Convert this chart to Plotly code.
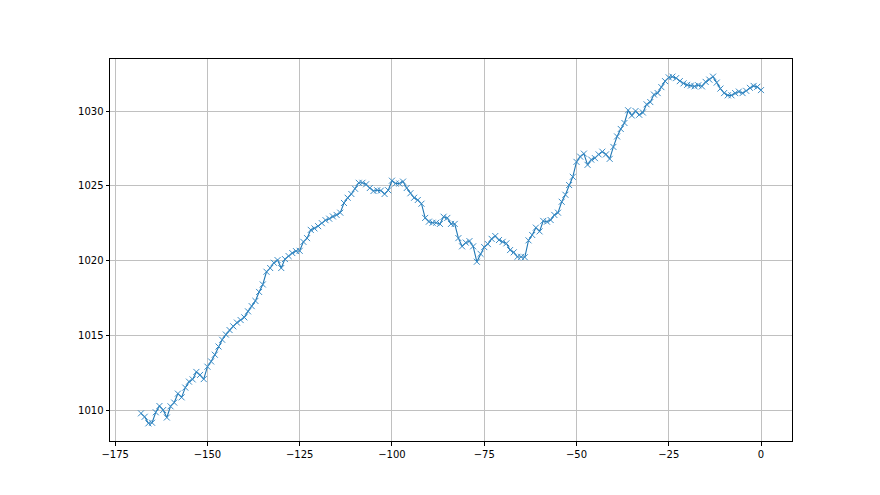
import plotly.graph_objects as go

# Horas relativas (la última lectura es la hora 0)
horas = list(range(-168, 1))

# Presión leída hora a hora
presion = [
    1009.78, 1009.55, 1009.11, 1009.15, 1009.85, 1010.27, 1010.00, 1009.50, 1010.25, 1010.50,
    1011.10, 1010.85, 1011.50, 1011.90, 1012.05, 1012.55, 1012.35, 1012.07, 1012.90, 1013.25,
    1013.70, 1014.25, 1014.70, 1015.05, 1015.35, 1015.60, 1015.85, 1016.02, 1016.20, 1016.60,
    1016.95, 1017.30, 1017.90, 1018.40, 1019.25, 1019.50, 1019.85, 1020.03, 1019.50, 1020.10,
    1020.30, 1020.50, 1020.63, 1020.65, 1021.25, 1021.50, 1022.05, 1022.15, 1022.30, 1022.50,
    1022.70, 1022.80, 1022.95, 1023.05, 1023.20, 1023.85, 1024.20, 1024.45, 1024.80, 1025.20,
    1025.20, 1025.10, 1024.85, 1024.65, 1024.70, 1024.68, 1024.45, 1024.70, 1025.34, 1025.15,
    1025.15, 1025.28, 1024.85, 1024.50, 1024.20, 1024.05, 1023.80, 1022.85, 1022.60, 1022.53,
    1022.53, 1022.45, 1022.93, 1022.85, 1022.45, 1022.45, 1021.50, 1020.95, 1021.20, 1021.30,
    1020.95, 1019.92, 1020.45, 1020.90, 1021.10, 1021.45, 1021.64, 1021.37, 1021.25, 1021.15,
    1020.70, 1020.55, 1020.25, 1020.25, 1020.22, 1021.35, 1021.71, 1022.20, 1021.95, 1022.65,
    1022.60, 1022.71, 1023.05, 1023.20, 1023.93, 1024.40, 1025.05, 1025.60, 1026.60, 1026.95,
    1027.15, 1026.40, 1026.75, 1026.85, 1027.10, 1027.28, 1027.10, 1026.80, 1027.60, 1028.30,
    1028.80, 1029.20, 1030.05, 1029.70, 1030.00, 1029.75, 1029.90, 1030.45, 1030.60, 1031.10,
    1031.20, 1031.60, 1032.00, 1032.25, 1032.30, 1032.20, 1032.00, 1031.85, 1031.75, 1031.70,
    1031.65, 1031.72, 1031.65, 1031.95, 1032.10, 1032.30, 1031.90, 1031.50, 1031.20, 1031.05,
    1031.05, 1031.20, 1031.30, 1031.20, 1031.35, 1031.55, 1031.68, 1031.62, 1031.40,
]

# Marcas de los ejes
x_ticks = [-175, -150, -125, -100, -75, -50, -25, 0]
x_labels = ["\u2212175", "\u2212150", "\u2212125", "\u2212100", "\u221275", "\u221250", "\u221225", "0"]
y_ticks = [1010, 1015, 1020, 1025, 1030]
y_labels = ["1010", "1015", "1020", "1025", "1030"]

fig = go.Figure()

fig.add_trace(go.Scatter(
    x=horas,
    y=presion,
    mode='lines+markers',
    line=dict(color='#1f77b4', width=1.1),
    marker=dict(symbol='x-thin', size=6, line=dict(color='#3a8cc6', width=1)),
    showlegend=False,
))

# la página añade 8 px de margen al cuerpo, se compensa aquí
fig.update_layout(
    width=880,
    height=495,
    margin=dict(l=102, r=96, t=51, b=62),
    plot_bgcolor='white',
    paper_bgcolor='white',
    font=dict(family='DejaVu Sans', size=10, color='black'),
)

fig.update_xaxes(
    range=[-176.4, 8.4],
    tickvals=x_ticks, ticktext=x_labels,
    showgrid=True, gridcolor='#c0c0c0', gridwidth=0.8,
    zeroline=False,
    showline=True, linecolor='black', linewidth=1, mirror=True,
    ticks='outside', ticklen=3.5, tickcolor='black', tickwidth=0.8,
)

fig.update_yaxes(
    range=[1007.93, 1033.48],
    tickvals=y_ticks, ticktext=y_labels,
    showgrid=True, gridcolor='#c0c0c0', gridwidth=0.8,
    zeroline=False,
    showline=True, linecolor='black', linewidth=1, mirror=True,
    ticks='outside', ticklen=3.5, tickcolor='black', tickwidth=0.8,
)

fig.write_html("out.html")
